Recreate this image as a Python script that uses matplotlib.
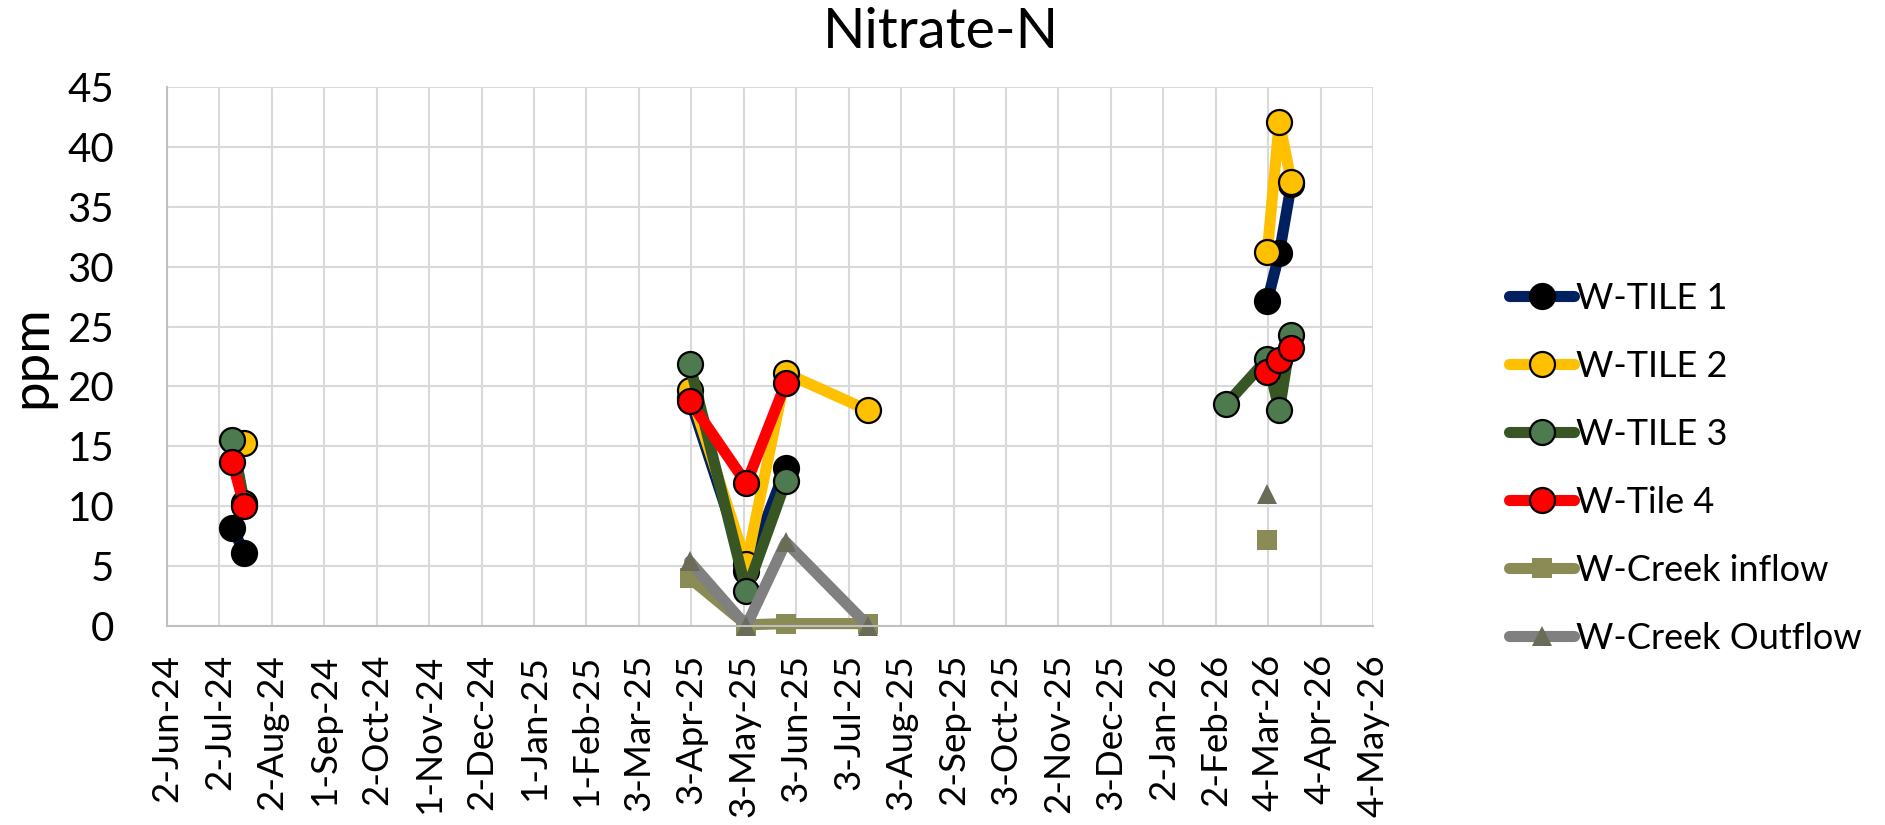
import matplotlib
matplotlib.use('Agg')
import matplotlib.pyplot as plt
import matplotlib.dates as mdates
import numpy as np
from datetime import datetime

plt.rcParams['font.family'] = ['Lato', 'DejaVu Sans']

# ---- data ----
dates = ['2024-07-10', '2024-07-17', '2025-04-02', '2025-05-05', '2025-05-28',
         '2025-07-15', '2026-02-08', '2026-03-04', '2026-03-11', '2026-03-18']
nan = np.nan
w_tile1 = [8.2, 6.1, 19.0, 4.6, 13.2, nan, nan, 27.1, 31.1, 36.9]
w_tile2 = [nan, 15.3, 19.7, 5.2, 21.1, 18.0, nan, 31.2, 42.1, 37.1]
w_tile3 = [15.5, 10.3, 21.9, 2.9, 12.1, nan, 18.5, 22.3, 18.0, 24.3]
w_tile4 = [13.7, 10.0, 18.8, 11.9, 20.3, nan, nan, 21.2, 22.2, 23.2]
creek_in = [nan, nan, 4.0, 0.1, 0.2, 0.2, nan, 7.2, nan, nan]
creek_out = [nan, nan, 5.4, 0.0, 7.0, 0.0, nan, 11.0, nan, nan]

tick_labels = ['2-Jun-24', '2-Jul-24', '2-Aug-24', '1-Sep-24', '2-Oct-24', '1-Nov-24',
               '2-Dec-24', '1-Jan-25', '1-Feb-25', '3-Mar-25', '3-Apr-25', '3-May-25',
               '3-Jun-25', '3-Jul-25', '3-Aug-25', '2-Sep-25', '3-Oct-25', '2-Nov-25',
               '3-Dec-25', '2-Jan-26', '2-Feb-26', '4-Mar-26', '4-Apr-26', '4-May-26']
axis_start = '2024-06-02'
tick_step_days = 30.5

series = [
    ('W-TILE 1', w_tile1, dict(color='#002060', marker='o', mfc='black', mec='black')),
    ('W-TILE 2', w_tile2, dict(color='#FFC000', marker='o', mfc='#FFC000', mec='black')),
    ('W-TILE 3', w_tile3, dict(color='#375623', marker='o', mfc='#4E7A50', mec='black')),
    ('W-Tile 4', w_tile4, dict(color='#FF0000', marker='o', mfc='#FF0000', mec='black')),
    ('W-Creek inflow', creek_in, dict(color='#8B8B55', marker='s', mfc='#8B8B55', mec='#8B8B55')),
    ('W-Creek Outflow', creek_out, dict(color='#808080', marker='^', mfc='#6A6C58', mec='#6A6C58')),
]

# ---- figure ----
W, H = 1885, 825
fig = plt.figure(figsize=(W / 100, H / 100), dpi=100)
ax = fig.add_axes([167 / W, 1 - 626 / H, (1373 - 167) / W, (626 - 87) / H])

x = mdates.date2num([datetime.strptime(d, '%Y-%m-%d') for d in dates])

def with_gaps(xv, yv, max_gap=120):
    xs, ys = [xv[0]], [yv[0]]
    for i in range(1, len(xv)):
        if xv[i] - xv[i - 1] > max_gap:
            xs.append((xv[i] + xv[i - 1]) / 2)
            ys.append(np.nan)
        xs.append(xv[i])
        ys.append(yv[i])
    return np.array(xs), np.array(ys, dtype=float)

handles = []
for name, vals, st in series:
    xs, ys = with_gaps(x, vals)
    msize = 18 if st['marker'] == 'o' else 14
    mew = 1.6 if st['marker'] == 'o' else 0
    ln, = ax.plot(xs, ys, color=st['color'], lw=8, solid_capstyle='round',
                  solid_joinstyle='round', marker=st['marker'], ms=msize,
                  mfc=st['mfc'], mec=st['mec'], mew=mew, label=name, clip_on=False)
    handles.append(ln)

start = mdates.date2num(datetime.strptime(axis_start, '%Y-%m-%d'))
ticks = start + tick_step_days * np.arange(len(tick_labels))
ax.set_xlim(ticks[0], ticks[-1])
ax.set_xticks(ticks)
ax.set_xticklabels(tick_labels, rotation=90, fontsize=26.5)
ax.set_ylim(0, 45)
ax.set_yticks(np.arange(0, 46, 5))
ax.tick_params(axis='y', labelsize=29, length=0, pad=38)
ax.tick_params(axis='x', length=0, pad=20)

ax.grid(True, color='#D9D9D9', lw=1.5)
ax.set_axisbelow(True)
for s in ['top', 'right']:
    ax.spines[s].set_visible(False)
for s in ['left', 'bottom']:
    ax.spines[s].set_color('#BFBFBF')
    ax.spines[s].set_linewidth(1.5)

fig.text(941 / W, 1 - 32 / H, 'Nitrate-N', ha='center', va='center', fontsize=40)
fig.text(32 / W, 1 - 357 / H, 'ppm', ha='center', va='center', rotation=90, fontsize=38)

leg = fig.legend(handles=handles, loc='center left',
                 bbox_to_anchor=(1509 / W, 1 - 468.5 / H), bbox_transform=fig.transFigure,
                 frameon=False, fontsize=26, handlelength=1.8, handletextpad=0.05,
                 labelspacing=0.97, borderpad=0, borderaxespad=0)

fig.savefig('out.png', dpi=100)
